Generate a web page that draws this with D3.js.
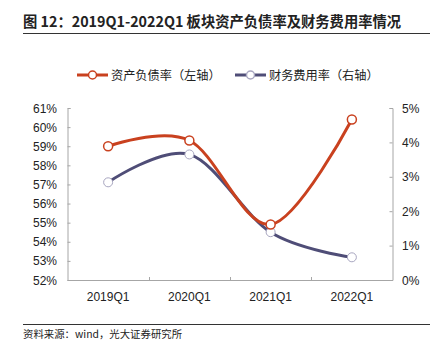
<!DOCTYPE html>
<html><head><meta charset="utf-8">
<script src="https://cdn.jsdelivr.net/npm/d3@7"></script>
<style>body{margin:0;background:#fff}svg{display:block}</style>
</head><body>
<svg id="c" width="439" height="355"></svg>
<script>
const categories = ["2019Q1","2020Q1","2021Q1","2022Q1"];
const debtRatio = [59.0, 59.3, 54.9, 60.4];      // 资产负债率（左轴）, %
const financeRate = [2.84, 3.65, 1.39, 0.66];    // 财务费用率（右轴）, %
const leftTicks = [52,53,54,55,56,57,58,59,60,61];
const rightTicks = [0,1,2,3,4,5];
const seriesNames = ["资产负债率（左轴）","财务费用率（右轴）"];
const title = "图 12：2019Q1-2022Q1 板块资产负债率及财务费用率情况";
const source = "资料来源：wind，光大证券研究所";

const svg = d3.select("#c");
const cjk = "'Noto Sans CJK SC','Noto Sans',sans-serif";
const lat = "'Liberation Sans',Arial,sans-serif";
const red = "#c9411f", blue = "#4f4d77", axisC = "#a6a6a6";

// title
svg.append("text").attr("x",23).attr("y",27).attr("font-family",cjk).attr("font-weight","bold")
  .attr("font-size",14.3).attr("fill","#222").text(title);
svg.append("line").attr("x1",23).attr("x2",430).attr("y1",33.5).attr("y2",33.5).attr("stroke","#333").attr("stroke-width",1);
// footer
svg.append("line").attr("x1",23).attr("x2",430).attr("y1",324.5).attr("y2",324.5).attr("stroke","#333").attr("stroke-width",1);
svg.append("text").attr("x",23).attr("y",338).attr("font-family",cjk).attr("font-size",10.4).attr("fill","#222").text(source);

const L = 67.5, R = 392.5, T = 108, B = 280;
const x = d3.scaleBand().domain(categories).range([L,R]);
const yL = d3.scaleLinear().domain([52,61]).range([B,T]);
const yR = d3.scaleLinear().domain([0,5]).range([B,T]);

// axes
const gL = svg.append("g").attr("transform",`translate(${L},0)`)
  .call(d3.axisRight(yL).tickValues(leftTicks).tickSize(3).tickFormat(""));
const gR = svg.append("g").attr("transform",`translate(${R},0)`)
  .call(d3.axisLeft(yR).tickValues(rightTicks).tickSize(3).tickFormat(""));
const gX = svg.append("g").attr("transform",`translate(0,${B})`)
  .call(d3.axisTop(x).tickValues([]).tickSizeOuter(0));
[gL,gR,gX].forEach(g=>{g.selectAll("path,line").attr("stroke",axisC);});
gX.select(".domain").remove();
svg.append("line").attr("x1",L).attr("x2",R).attr("y1",B+0.5).attr("y2",B+0.5).attr("stroke",axisC);
// boundary ticks on x axis
const bounds = categories.slice(1).map(c=>x(c));
svg.selectAll(".xt").data(bounds).join("line").attr("x1",d=>Math.round(d)+0.5).attr("x2",d=>Math.round(d)+0.5)
  .attr("y1",B).attr("y2",B-3).attr("stroke",axisC);

// tick labels
svg.selectAll(".ly").data(leftTicks).join("text").attr("x",57).attr("y",d=>yL(d)+4.5)
  .attr("text-anchor","end").attr("font-family",lat).attr("font-size",12).attr("fill","#222").text(d=>d+"%");
svg.selectAll(".ry").data(rightTicks).join("text").attr("x",402).attr("y",d=>yR(d)+4.5)
  .attr("font-family",lat).attr("font-size",12).attr("fill","#222").text(d=>d+"%");
svg.selectAll(".xl").data(categories).join("text").attr("x",d=>x(d)+x.bandwidth()/2).attr("y",301)
  .attr("text-anchor","middle").attr("font-family",lat).attr("font-size",12).attr("fill","#222").text(d=>d);

// lines
const cx = d=>x(d)+x.bandwidth()/2;
const lineL = d3.line().x((d,i)=>cx(categories[i])).y(d=>yL(d)).curve(d3.curveCatmullRom.alpha(0));
const lineR = d3.line().x((d,i)=>cx(categories[i])).y(d=>yR(d)).curve(d3.curveCatmullRom.alpha(0));
svg.append("path").attr("d",lineR(financeRate)).attr("fill","none").attr("stroke",blue).attr("stroke-width",3);
svg.append("path").attr("d",lineL(debtRatio)).attr("fill","none").attr("stroke",red).attr("stroke-width",3);
svg.selectAll(".mb").data(financeRate).join("circle").attr("cx",(d,i)=>cx(categories[i])).attr("cy",d=>yR(d))
  .attr("r",4.5).attr("fill","#fff").attr("stroke","#a8a6c0").attr("stroke-width",1);
svg.selectAll(".mr").data(debtRatio).join("circle").attr("cx",(d,i)=>cx(categories[i])).attr("cy",d=>yL(d))
  .attr("r",4.5).attr("fill","#fff").attr("stroke",red).attr("stroke-width",1.5);

// legend
const leg = [{name:seriesNames[0],c:red,ms:red,x0:77},{name:seriesNames[1],c:blue,ms:"#a8a6c0",x0:235}];
leg.forEach(l=>{
  svg.append("line").attr("x1",l.x0).attr("x2",l.x0+31).attr("y1",75).attr("y2",75).attr("stroke",l.c).attr("stroke-width",3);
  svg.append("circle").attr("cx",l.x0+15.5).attr("cy",75).attr("r",4).attr("fill","#fff").attr("stroke",l.ms).attr("stroke-width",1.5);
  svg.append("text").attr("x",l.x0+34).attr("y",79.5).attr("font-family",cjk).attr("font-size",12.2).attr("fill","#222").text(l.name);
});
</script>
</body></html>
